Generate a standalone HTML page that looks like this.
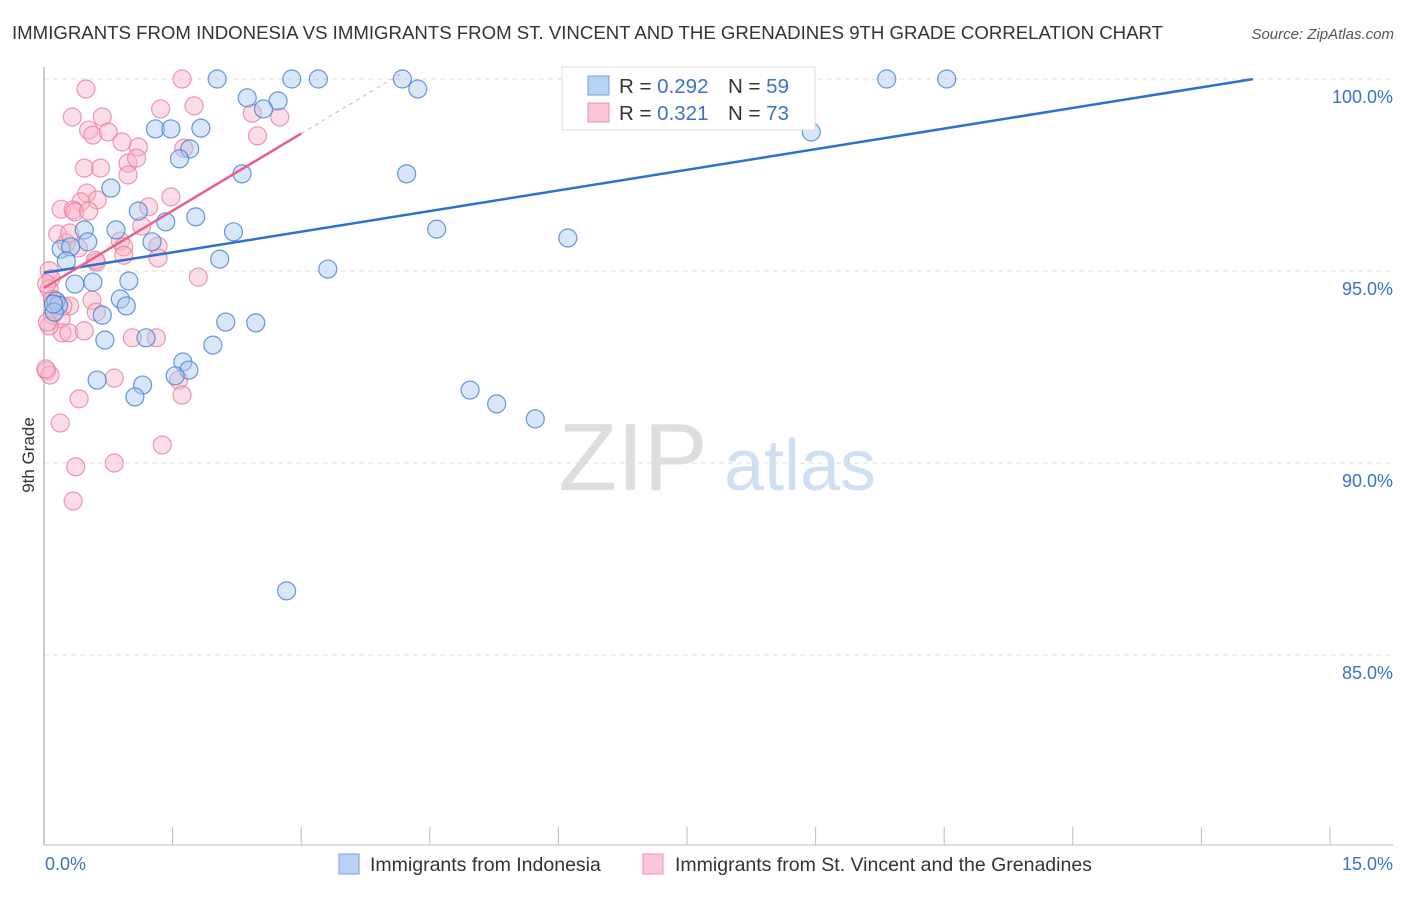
<!DOCTYPE html>
<html><head><meta charset="utf-8"><style>
body{margin:0;background:#fff;font-family:"Liberation Sans",sans-serif;}
svg text{font-family:"Liberation Sans",sans-serif;}
</style></head><body>
<svg id="chart" width="1406" height="892" xmlns="http://www.w3.org/2000/svg">
<text x="12" y="39" font-size="18.5" fill="#333" textLength="1151" lengthAdjust="spacingAndGlyphs">IMMIGRANTS FROM INDONESIA VS IMMIGRANTS FROM ST. VINCENT AND THE GRENADINES 9TH GRADE CORRELATION CHART</text>
<text x="1394" y="39" font-size="15" fill="#555" text-anchor="end" font-style="italic">Source: ZipAtlas.com</text>
<text transform="translate(34,455) rotate(-90)" font-size="17" fill="#333" text-anchor="middle">9th Grade</text>
<g>
<text x="633" y="490" font-size="96" fill="#ddd" text-anchor="middle" font-family="Liberation Serif,serif">ZIP</text>
<text x="800" y="490" font-size="72" fill="#cfe0f3" text-anchor="middle">atlas</text>
</g>
<g id="grid"></g>
<g id="axes"></g>
<g id="marks"></g>
<g>
<rect x="562" y="67" width="253" height="63" fill="#fff" stroke="#ddd"/>
<rect x="588" y="76" width="21" height="19" fill="#b8d2f3" stroke="#6fa0e0"/>
<rect x="588" y="103" width="21" height="19" fill="#fbc6d5" stroke="#ee8fac"/>
<text x="619" y="93" font-size="20.5" fill="#333">R = <tspan fill="#3a72cc">0.292</tspan></text>
<text x="728" y="93" font-size="20.5" fill="#333">N = <tspan fill="#3a72cc">59</tspan></text>
<text x="619" y="120" font-size="20.5" fill="#333">R = <tspan fill="#3a72cc"> 0.321</tspan></text>
<text x="728" y="120" font-size="20.5" fill="#333">N = <tspan fill="#3a72cc">73</tspan></text>
</g>
<g>
<rect x="339" y="854" width="20" height="20" fill="#b8d2f3" stroke="#6fa0e0"/>
<text x="370" y="871" font-size="19.5" fill="#333">Immigrants from Indonesia</text>
<rect x="643" y="854" width="20" height="20" fill="#fbc6d5" stroke="#ee8fac"/>
<text x="675" y="871" font-size="19.5" fill="#333">Immigrants from St. Vincent and the Grenadines</text>
</g>
</svg>
<script>
const xTicks=[0,1.5,3,4.5,6,7.5,9,10.5,12,13.5,15];
const yTicks=[100,95,90,85];
const yTickLabels=["100.0%","95.0%","90.0%","85.0%"];
const blueX=[2.02,2.89,3.20,4.18,9.83,10.53,4.36,2.37,2.73,2.56,1.30,1.48,1.83,8.95,1.70,1.58,0.78,2.31,4.23,1.10,1.77,1.42,0.84,0.47,2.21,4.58,6.11,1.26,0.51,0.20,0.31,2.05,0.26,3.31,0.99,0.57,0.36,0.89,0.96,0.14,0.17,0.12,0.68,2.12,2.47,0.71,1.19,1.97,1.62,1.69,0.62,1.53,1.15,1.06,4.97,5.28,5.73,2.83,0.11];
const blueY=[100,100,100,100,100,100,99.74,99.51,99.43,99.22,98.70,98.70,98.72,98.62,98.18,97.92,97.16,97.53,97.53,96.56,96.41,96.28,96.07,96.07,96.02,96.09,95.86,95.76,95.76,95.57,95.63,95.31,95.26,95.05,94.74,94.71,94.66,94.27,94.09,94.22,94.11,93.93,93.85,93.67,93.65,93.20,93.26,93.07,92.63,92.42,92.16,92.27,92.03,91.72,91.90,91.54,91.15,86.67,94.14];
const pinkX=[1.61,0.49,0.33,0.68,1.36,1.75,2.43,2.75,0.52,0.57,0.75,0.91,1.10,1.63,2.49,0.47,0.66,0.98,1.08,0.98,0.50,0.62,0.43,1.48,1.22,0.20,0.34,0.36,0.52,1.14,0.89,0.93,0.16,0.26,0.40,1.33,1.33,0.93,0.61,0.06,0.08,0.06,0.13,0.30,0.56,0.61,0.10,0.20,0.21,0.29,0.47,1.03,1.31,0.06,0.03,0.07,0.82,1.57,1.61,1.80,0.41,0.19,1.38,0.37,0.82,0.34,0.02,0.10,0.03,0.22,0.04,0.60,0.30];
const pinkY=[100,99.74,99.01,99.01,99.22,99.30,99.11,99.01,98.67,98.54,98.62,98.36,98.23,98.20,98.52,97.68,97.68,97.81,97.94,97.50,97.03,96.85,96.80,96.93,96.67,96.61,96.59,96.54,96.56,96.17,95.78,95.63,95.96,95.73,95.60,95.65,95.34,95.41,95.23,95.01,94.80,94.53,94.22,94.09,94.24,93.93,93.85,93.75,93.39,93.39,93.44,93.26,93.26,93.57,92.40,92.29,92.21,92.16,91.77,94.84,91.67,91.04,90.47,89.90,90.00,89.01,92.45,94.27,94.66,94.09,93.67,95.28,95.99];
const trendIntercept=[94.95,94.56];
const trendSlope=[0.358,1.34];
const trendSolidEnd=[14.1,3.0];
const trendDashEnd=[14.1,4.15];
const L=44,R=1330,T=79,PX5=192;
const xs=v=>L+v/15*(R-L);
const ys=v=>T+(100-v)/5*PX5;
const NS="http://www.w3.org/2000/svg";
function mk(tag,attrs,parent){const e=document.createElementNS(NS,tag);for(const k in attrs)e.setAttribute(k,attrs[k]);parent.appendChild(e);return e;}
const grid=document.getElementById('grid'),axes=document.getElementById('axes'),marks=document.getElementById('marks');
yTicks.forEach((t,i)=>{
 const g=mk('line',{x1:L,x2:1393,y1:ys(t),y2:ys(t),stroke:'#ddd','stroke-dasharray':'5,4'},grid);
 
 
 const tx=mk('text',{x:1393,y:ys(t)+24,'font-size':18,fill:'#3a72cc','text-anchor':'end'},axes);
 tx.textContent=yTickLabels[i];
 
 
});
const ax=mk('line',{x1:L,x2:L,y1:67,y2:845,stroke:'#bbb','stroke-width':1.5},axes);


const bx=mk('line',{x1:L,x2:1393,y1:845,y2:845,stroke:'#bbb'},axes);


xTicks.forEach(t=>{
 const l=mk('line',{x1:xs(t),x2:xs(t),y1:827,y2:845,stroke:'#bbb'},axes);
 
 
});
const x0=mk('text',{x:45,y:870,'font-size':18,fill:'#3a72cc'},axes);x0.textContent=xTicks[0].toFixed(1)+'%';


const x1=mk('text',{x:1393,y:870,'font-size':18,fill:'#3a72cc','text-anchor':'end'},axes);x1.textContent=xTicks[10].toFixed(1)+'%';


function pts(X,Y,fill,stroke,name){X.forEach((v,i)=>{
 const c=mk('circle',{cx:xs(v),cy:ys(Y[i]),r:9,fill:fill,'fill-opacity':0.45,stroke:stroke,'stroke-width':1.2,'stroke-opacity':0.8},marks);
 
 
});}
pts(pinkX,pinkY,'#f8b4c8','#e87e9e','pink-point');
pts(blueX,blueY,'#a9c8f0','#3f7fd6','blue-point');
const colors=['#2f6fd0','#e8608a'];
[0,1].forEach(i=>{
 const f=x=>trendIntercept[i]+trendSlope[i]*x;
 const l=mk('line',{x1:xs(0),y1:ys(f(0)),x2:xs(trendSolidEnd[i]),y2:ys(f(trendSolidEnd[i])),stroke:colors[i],'stroke-width':2.5},marks);
 
 
 if(trendDashEnd[i]>trendSolidEnd[i]){
  const d=mk('line',{x1:xs(trendSolidEnd[i]),y1:ys(f(trendSolidEnd[i])),x2:xs(trendDashEnd[i]),y2:ys(f(trendDashEnd[i])),stroke:colors[i],'stroke-width':1,'stroke-dasharray':'4,4','stroke-opacity':0.6},marks);
  
  
 }
});
</script>
</body></html>
